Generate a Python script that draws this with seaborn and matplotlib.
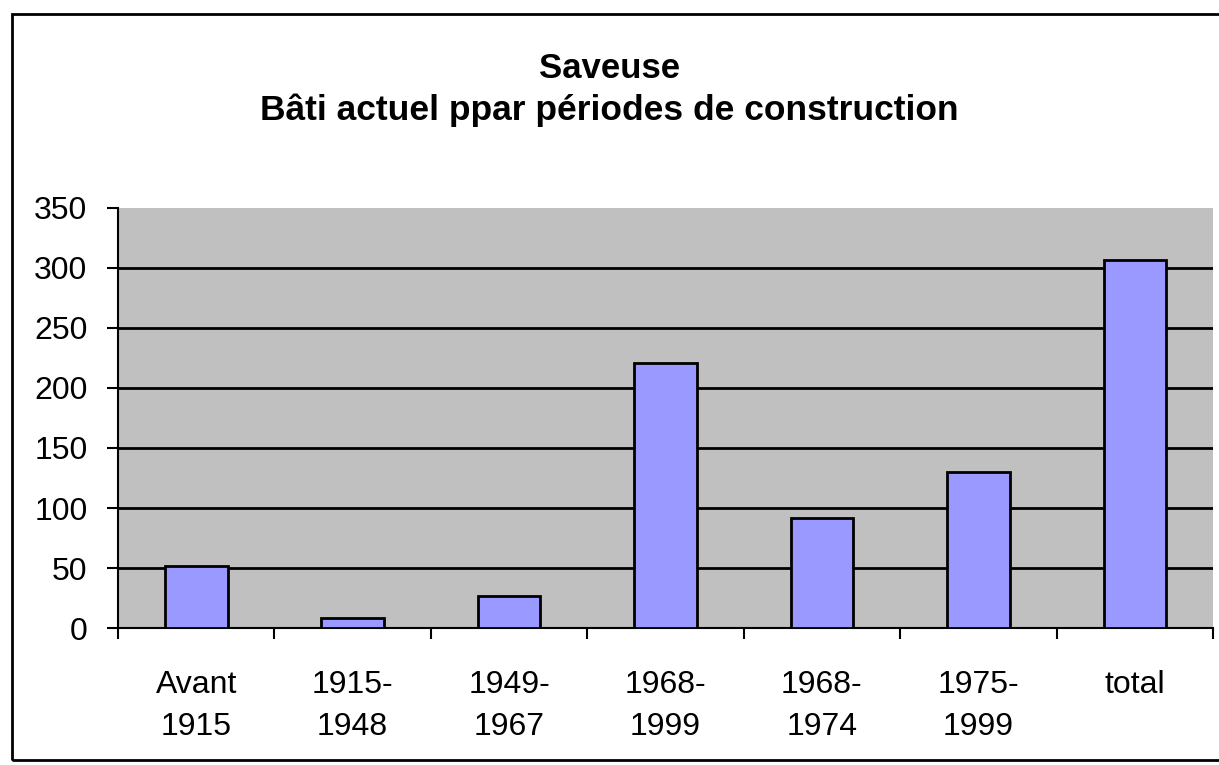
import seaborn as sns
import matplotlib.pyplot as plt
from matplotlib.patches import Rectangle

periods = ["Avant\n1915", "1915-\n1948", "1949-\n1967", "1968-\n1999", "1968-\n1974", "1975-\n1999", "total"]
buildings = [52, 8, 27, 221, 92, 130, 307]

sns.set_theme(style="white")
plt.rcParams["font.family"] = ["Liberation Sans", "DejaVu Sans"]
plt.rcParams["text.color"] = "black"
plt.rcParams["xtick.color"] = "black"
plt.rcParams["ytick.color"] = "black"

fig = plt.figure(figsize=(12.19, 7.65), dpi=100)
ax = fig.add_axes([118 / 1219, 1 - 628 / 765, 1095 / 1219, 420 / 765])
ax.set_facecolor("#c0c0c0")

sns.barplot(x=periods, y=buildings, color="#9999ff", saturation=1,
            edgecolor="black", linewidth=2, width=0.4, ax=ax, zorder=3)

ax.set_ylim(0, 350)
ax.set_xlim(-0.5, len(periods) - 0.5)
ax.set_yticks(range(0, 351, 50))
ax.yaxis.grid(True, color="black", linewidth=2, zorder=1)
ax.get_ygridlines()[-1].set_visible(False)
ax.set_axisbelow(True)
for side in ["top", "right"]:
    ax.spines[side].set_visible(False)
ax.spines["left"].set_color("black")
ax.spines["left"].set_linewidth(1.5)
ax.spines["bottom"].set_color("black")
ax.spines["bottom"].set_linewidth(1.5)

# tick marks between categories, labels at centres
ax.set_xticks([i + 0.5 for i in range(-1, len(periods))], minor=True)
ax.tick_params(axis="x", which="minor", length=8, width=1.5, color="black", direction="out", bottom=True)
ax.tick_params(axis="x", which="major", length=0, pad=30, labelsize=23, labelcolor="black")
ax.tick_params(axis="y", length=8, width=1.5, color="black", direction="out", left=True,
               labelsize=23, labelcolor="black", pad=14)
ax.set_xlabel("")
ax.set_ylabel("")
for lab in ax.get_xticklabels():
    lab.set_linespacing(1.55)

fig.text(0.5, 1 - 68 / 765, "Saveuse", ha="center", va="center", fontsize=25, fontweight="bold")
fig.text(0.5, 1 - 110 / 765, "Bâti actuel ppar périodes de construction", ha="center", va="center",
         fontsize=25.5, fontweight="bold")

fig.patches.append(Rectangle((12 / 1219, 1 - 760 / 765), 1210 / 1219, 746 / 765,
                             transform=fig.transFigure, fill=False, edgecolor="black", linewidth=2))

fig.savefig("out.png", dpi=100)
plt.close(fig)
